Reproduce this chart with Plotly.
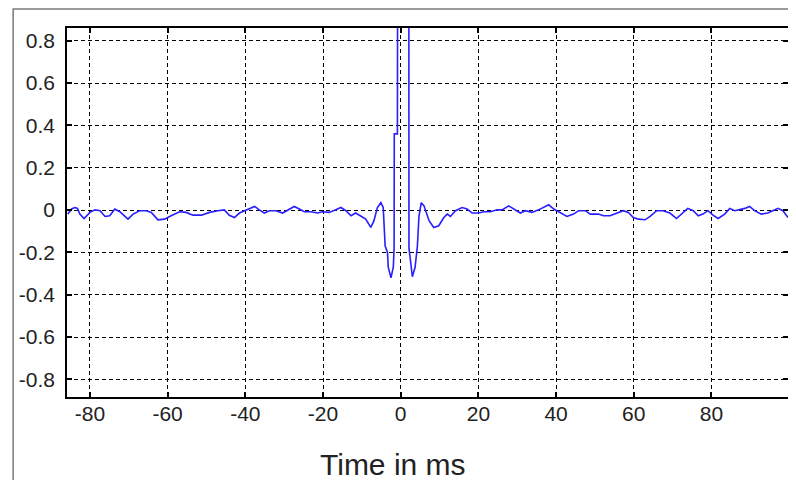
import plotly.graph_objects as go

# Traced samples of the curve (time in ms, normalized value)
time_ms = [
    -85.7, -84.7, -83.9, -83.2, -82.6, -81.5, -80.0, -78.7, -77.4, -76.1,
    -74.9, -73.6, -72.3, -70.2, -68.9, -67.2, -65.5, -64.2, -62.5, -60.8,
    -59.1, -56.9, -55.2, -53.5, -51.3, -49.2, -47.1, -45.4, -44.1, -42.8,
    -41.5, -40.2, -38.9, -37.6, -36.4, -35.1, -33.8, -32.1, -30.4, -28.8,
    -27.4, -26.1, -24.8, -23.1, -21.4, -20.1, -18.4, -16.7, -15.4, -14.1,
    -12.8, -11.6, -10.3, -9.0, -7.7, -6.9, -6.0, -5.1, -4.5, -4.0,
    -3.4, -3.2, -2.5, -1.9, -1.7, -1.65, -0.85, -0.8, 2.1, 2.13,
    2.4, 3.0, 3.7, 4.3, 4.7, 5.3, 6.0, 7.3, 8.5, 9.8,
    11.1, 12.0, 12.8, 14.1, 15.8, 17.1, 18.4, 20.1, 21.4, 23.1,
    24.8, 26.1, 27.8, 29.1, 30.8, 32.1, 33.8, 35.5, 36.8, 38.1,
    39.4, 41.1, 42.8, 44.5, 45.8, 47.5, 48.8, 50.9, 52.2, 53.9,
    55.6, 57.3, 58.6, 59.9, 61.2, 62.9, 64.2, 65.9, 67.6, 69.3,
    71.0, 72.7, 73.9, 75.3, 76.6, 77.8, 79.1, 80.4, 81.7, 83.4,
    84.7, 86.0, 87.3, 88.6, 89.8, 91.1, 92.8, 94.5, 95.8, 97.1,
    98.4, 99.7,
]
values = [
    -0.019, 0.005, 0.012, 0.008, -0.019, -0.040, -0.011, 0.001, -0.003, -0.030,
    -0.027, 0.005, -0.008, -0.043, -0.019, -0.003, -0.003, -0.011, -0.046, -0.043,
    -0.027, -0.008, -0.011, -0.024, -0.024, -0.011, -0.003, 0.001, -0.025, -0.035,
    -0.014, -0.003, 0.008, 0.017, 0.001, -0.014, -0.003, -0.003, -0.014, 0.001,
    0.017, 0.005, -0.008, -0.008, -0.014, -0.008, -0.011, 0.001, 0.012, -0.003,
    -0.027, -0.014, -0.030, -0.043, -0.082, -0.051, 0.012, 0.035, 0.012, -0.170,
    -0.200, -0.270, -0.320, -0.270, -0.180, 0.360, 0.360, 1.000, 1.000, -0.180,
    -0.220, -0.315, -0.270, -0.170, -0.030, 0.035, 0.020, -0.050, -0.082, -0.074,
    -0.035, -0.019, -0.030, -0.003, 0.012, 0.005, -0.014, -0.014, -0.008, -0.008,
    0.001, 0.001, 0.020, 0.005, -0.014, -0.003, -0.011, 0.001, 0.012, 0.025,
    0.005, -0.011, -0.030, -0.019, -0.003, -0.003, -0.019, -0.019, -0.027, -0.027,
    -0.014, -0.003, -0.011, -0.035, -0.043, -0.046, -0.030, -0.003, -0.003, -0.014,
    -0.040, -0.011, 0.008, -0.003, -0.027, -0.019, -0.003, -0.024, -0.040, -0.019,
    0.008, -0.003, 0.001, 0.008, 0.017, -0.003, -0.019, -0.014, -0.003, 0.008,
    -0.003, -0.035,
]

x_ticks = [-80, -60, -40, -20, 0, 20, 40, 60, 80]
x_labels = ["-80", "-60", "-40", "-20", "0", "20", "40", "60", "80"]
y_ticks = [-0.8, -0.6, -0.4, -0.2, 0, 0.2, 0.4, 0.6, 0.8]
y_labels = ["-0.8", "-0.6", "-0.4", "-0.2", "0", "0.2", "0.4", "0.6", "0.8"]
x_title = "Time in ms"

fig = go.Figure()
fig.add_trace(go.Scatter(
    x=time_ms, y=values, mode="lines",
    line=dict(color="rgb(40,30,255)", width=1.6),
    showlegend=False, hoverinfo="skip",
))

tick_font = dict(family="Liberation Sans, Arial, sans-serif", size=21, color="#222222")
common = dict(
    showline=True, linecolor="black", linewidth=1.5, mirror="ticks",
    ticks="inside", ticklen=5, tickwidth=1.5, tickcolor="black",
    showgrid=True, gridcolor="black", gridwidth=1.2, griddash="4px,3px",
    zeroline=False, tickfont=tick_font,
)
fig.update_xaxes(range=[-85.9, 99.7], tickvals=x_ticks, ticktext=x_labels,
                 ticklabelstandoff=-3, **common)
fig.update_yaxes(range=[-0.883, 0.86], tickvals=y_ticks, ticktext=y_labels,
                 ticklabelstandoff=6, **common)

# the page body has an 8px margin; the figure is sized to fill the rest
W, H = 788, 472
L, R, T = 59, 6, 20
B = 83
pw = W - L - R
ph = H - T - B

# outer figure frame (gray)
fig.add_shape(type="rect", xref="paper", yref="paper",
              x0=(5 - L) / pw, x1=1.2, y0=-0.5, y1=1 + (T - 1) / ph,
              line=dict(color="#7a7a7a", width=1.5), fillcolor="rgba(0,0,0,0)",
              layer="below")

fig.add_annotation(text=x_title, xref="paper", yref="paper",
                   x=(386 - L) / pw, y=(H - B - 456) / ph,
                   xanchor="center", yanchor="middle", showarrow=False,
                   font=dict(family="Liberation Sans, Arial, sans-serif", size=30, color="#222222"))

fig.update_layout(
    width=W, height=H,
    margin=dict(l=L, r=R, t=T, b=B, pad=0),
    paper_bgcolor="white", plot_bgcolor="white",
)

fig.write_html("out.html")
